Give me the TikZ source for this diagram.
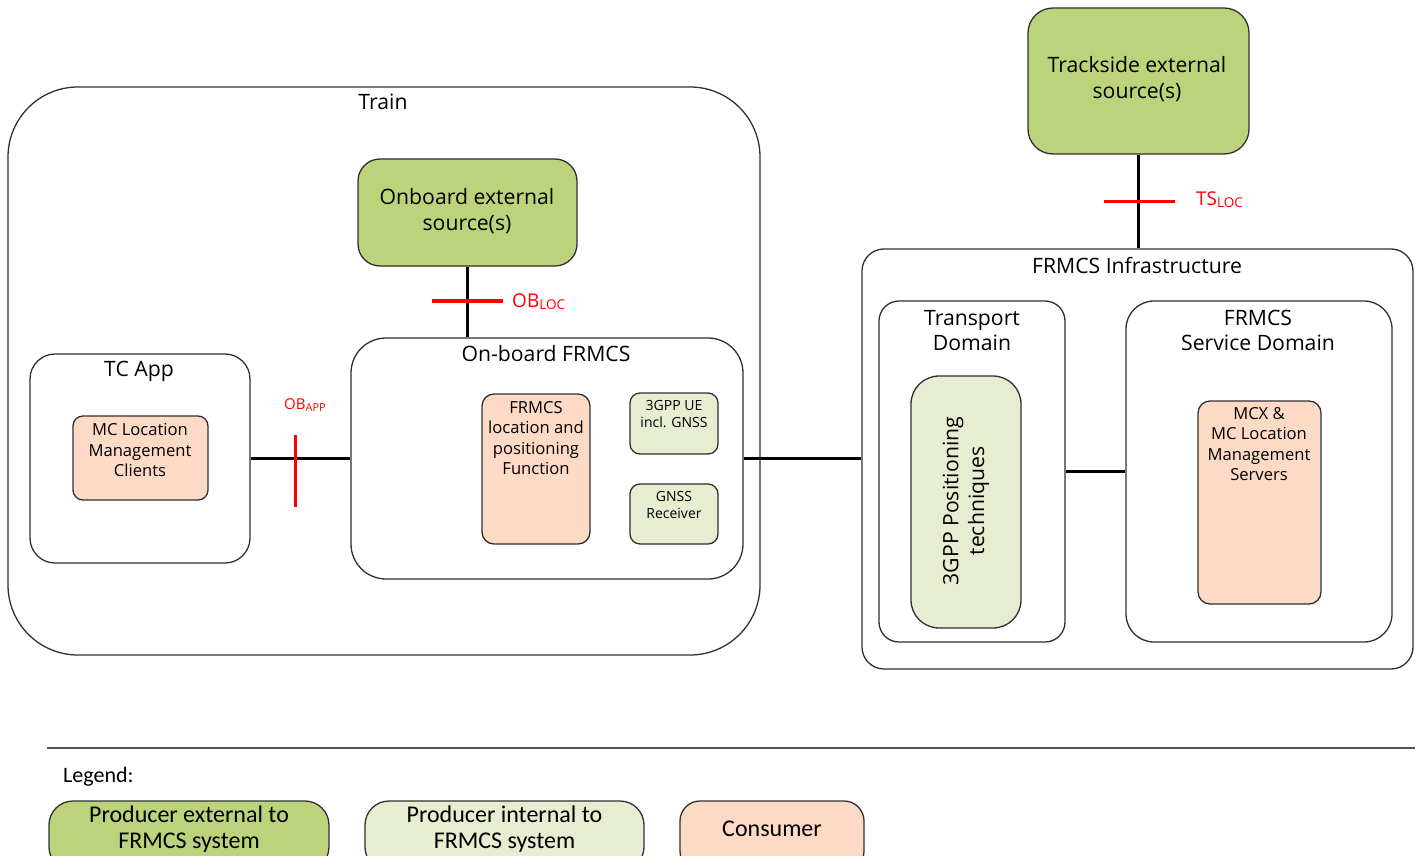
\documentclass[tikz,border=0pt]{standalone}
\usepackage{fontspec}
\setmainfont{Open Sans}
\newfontfamily\legendfont{Carlito}
\usetikzlibrary{calc}
\definecolor{extgreen}{HTML}{BDD37B}
\definecolor{intgreen}{HTML}{E6EDD1}
\definecolor{consumer}{HTML}{FDDAC5}
\definecolor{edge}{HTML}{303030}
\definecolor{ifred}{HTML}{FF0000}
\definecolor{rulegray}{HTML}{555555}

\begin{document}
\begin{tikzpicture}[x=1pt,y=-1pt,
  frame/.style={draw=edge, line width=1.3pt, rectangle, inner sep=0pt},
  extbox/.style={frame, fill=extgreen},
  intbox/.style={frame, fill=intgreen},
  consbox/.style={frame, fill=consumer},
  link/.style={line width=2.4pt, black},
  ifbar/.style={line width=3.5pt, ifred},
  bigtxt/.style={font=\fontsize{21.2}{25.8}\selectfont, align=center, inner sep=0pt},
  midtxt/.style={font=\fontsize{16.6}{20.6}\selectfont, align=center, inner sep=0pt},
  smalltxt/.style={font=\fontsize{14}{17}\selectfont, align=center, inner sep=0pt},
  reftxt/.style={text=ifred, inner sep=0pt, anchor=west},
  legtxt/.style={font=\legendfont\fontsize{24}{26}\selectfont, align=center, inner sep=0pt},
]
\useasboundingbox (0,0) rectangle (1419,856);

% ---------------- Train ----------------
\node[frame, rounded corners=70pt, minimum width=752pt, minimum height=568pt] (train) at (384,371) {};
\node[bigtxt] (traint) at (383,102) {Train};

\node[extbox, rounded corners=22pt, minimum width=219pt, minimum height=107pt] (onbext) at (467.5,212.5) {};
\node[bigtxt] (onbextt) at (467,211) {Onboard external\\source(s)};

\node[frame, rounded corners=25pt, minimum width=220pt, minimum height=209pt] (tcapp) at (140,458.5) {};
\node[bigtxt] (tcappt) at (139,371) {TC App};
\node[consbox, rounded corners=10pt, minimum width=135pt, minimum height=84pt] (mccl) at (140.5,458) {};
\node[midtxt] (mcclt) at (140,450) {MC Location\\Management\\Clients};

\node[frame, rounded corners=35pt, minimum width=392pt, minimum height=241pt] (obf) at (547,458.5) {};
\node[bigtxt] (obft) at (546,354) {On-board FRMCS};
\node[consbox, rounded corners=12pt, minimum width=108pt, minimum height=150pt] (flp) at (536,469) {};
\node[midtxt] (flpt) at (536,438) {FRMCS\\location and\\positioning\\Function};
\node[intbox, rounded corners=10pt, minimum width=88pt, minimum height=61pt] (ue) at (674,423.5) {};
\node[smalltxt] (uet) at (674,414.5) {3GPP UE\\incl. GNSS};
\node[intbox, rounded corners=10pt, minimum width=88pt, minimum height=60pt] (gnss) at (674,514) {};
\node[smalltxt] (gnsst) at (674,504.5) {GNSS\\Receiver};

% ---------------- Trackside / infrastructure ----------------
\node[extbox, rounded corners=25pt, minimum width=221pt, minimum height=146pt] (track) at (1138.5,81) {};
\node[bigtxt] (trackt) at (1137,79) {Trackside external\\source(s)};

\node[frame, rounded corners=22pt, minimum width=551pt, minimum height=420pt] (infra) at (1137.5,459) {};
\node[bigtxt] (infrat) at (1137,265) {FRMCS Infrastructure};

\node[frame, rounded corners=20pt, minimum width=186pt, minimum height=341pt] (tdom) at (972,471.5) {};
\node[bigtxt] (tdomt) at (972,330.5) {Transport\\Domain};
\node[intbox, rounded corners=28pt, minimum width=110pt, minimum height=252pt] (pos) at (966,502) {};
\node[bigtxt, rotate=90] (post) at (966,501) {3GPP Positioning\\techniques};

\node[frame, rounded corners=28pt, minimum width=266pt, minimum height=341pt] (sdom) at (1259,471.5) {};
\node[bigtxt] (sdomt) at (1258,330.5) {FRMCS\\Service Domain};
\node[consbox, rounded corners=12pt, minimum width=123pt, minimum height=203pt] (mcx) at (1259.5,502.5) {};
\node[midtxt] (mcxt) at (1259,444) {MCX \&\\MC Location\\Management\\Servers};

% ---------------- Connectors ----------------
\draw[link] (onbext.south) -- (onbext.south |- obf.north);
\draw[link] (tcapp.east) -- (obf.west);
\draw[link] (obf.east) -- (obf.east -| infra.west);
\draw[link] (track.south) -- (track.south |- infra.north);
\draw[link] (tdom.east) -- (sdom.west);

% ---------------- Reference points ----------------
\coordinate (obloc) at ($(onbext.south)!0.5!(onbext.south |- obf.north)$);
\draw[ifbar] ($(obloc)+(-36,-1)$) -- ($(obloc)+(35,-1)$);
\node[reftxt, font=\fontsize{19}{19}\selectfont] (oblocl) at (512,302)
  {OB{\fontsize{13.5}{13.5}\selectfont\raisebox{-2pt}{LOC}}};

\coordinate (tsloc) at ($(track.south)!0.5!(track.south |- infra.north)$);
\draw[ifbar] ($(tsloc)+(-35,0)$) -- ($(tsloc)+(36,0)$);
\node[reftxt, font=\fontsize{19}{19}\selectfont] (tslocl) at (1196,200)
  {TS{\fontsize{13.5}{13.5}\selectfont\raisebox{-2pt}{LOC}}};

\coordinate (obapp) at ($(tcapp.east)!0.45!(obf.west)$);
\draw[ifbar] ($(obapp)+(0,-24)$) -- ($(obapp)+(0,48)$);
\node[reftxt, font=\fontsize{15}{15}\selectfont] (obappl) at (284,405)
  {OB{\fontsize{11}{11}\selectfont\raisebox{-1.5pt}{APP}}};

% ---------------- Legend ----------------
\coordinate (rulel) at (47,748);
\coordinate (ruler) at (1415,748);
\draw[rulegray, line width=1.8pt] (rulel) -- (ruler);
\node[legtxt, font=\legendfont\fontsize{22}{22}\selectfont, anchor=west] (legt) at (63,777) {Legend:};

\node[extbox, rounded corners=24pt, minimum width=280pt, minimum height=70pt] (lgext) at (189,836) {};
\node[legtxt] (lgextt) at (189,829) {Producer external to\\FRMCS system};
\node[intbox, rounded corners=24pt, minimum width=279pt, minimum height=70pt] (lgint) at (504.5,836) {};
\node[legtxt] (lgintt) at (504.5,829) {Producer internal to\\FRMCS system};
\node[consbox, rounded corners=20pt, minimum width=184pt, minimum height=70pt] (lgcons) at (772,836) {};
\node[legtxt] (lgconst) at (772,829) {Consumer};
\end{tikzpicture}
\end{document}
